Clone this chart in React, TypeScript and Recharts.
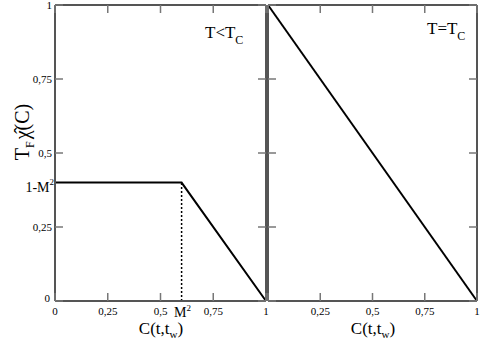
import { LineChart, Line, XAxis, YAxis } from 'recharts';

// correlation C(t,tw) on x, T_F chi(C) on y
const ticks = [0, 0.25, 0.5, 0.75, 1];
const mSquared = 0.6;
const plateau = 0.4;
const leftXTicks = [0, 0.25, 0.5, mSquared, 0.75, 1];
const leftYTicks = [0, 0.25, plateau, 0.5, 0.75, 1];
const belowTc = [
  { c: 0, chi: 0.4 },
  { c: 0.6, chi: 0.4 },
  { c: 1, chi: 0 },
];
const dropLine = [
  { c: 0.6, chi: 0 },
  { c: 0.6, chi: 0.4 },
];
const atTc = [
  { c: 0, chi: 1 },
  { c: 1, chi: 0 },
];

const FONT = '"Liberation Serif", "DejaVu Serif", serif';
const FRAME = '#555';
const TICK = '#777';
const T = 8; // tick length
const fmt = (v: number) => String(v).replace('.', ',');

// tickSize=T, tickMargin=0: tick props sit T px outside the axis line, so step back in
const bottomTick = (showZero: boolean) => (props: any) => {
  const { x, payload } = props;
  const y = props.y - T;
  const v = payload.value;
  if (v === mSquared) {
    return (
      <text x={x + 1} y={y + 16} textAnchor="middle" fontSize={14} fontFamily={FONT} fill="#000">
        M<tspan dy={-6} fontSize={9}>2</tspan>
      </text>
    );
  }
  return (
    <g>
      <line x1={x} x2={x} y1={y} y2={y - T} stroke={TICK} strokeWidth={1.5} />
      {(showZero || v !== 0) && (
        <text x={x} y={y + 14} textAnchor="middle" fontSize={11} fontFamily={FONT} fill="#000">
          {fmt(v)}
        </text>
      )}
    </g>
  );
};

const leftTick = (labels: boolean) => (props: any) => {
  const { y, payload } = props;
  const x = props.x + T;
  const v = payload.value;
  if (v === plateau) {
    return (
      <text x={x - 1} y={y + 9} textAnchor="end" fontSize={14} fontFamily={FONT} fill="#000">
        1-M<tspan dy={-7} fontSize={9}>2</tspan>
      </text>
    );
  }
  return (
    <g>
      <line x1={x} x2={x + T} y1={y} y2={y} stroke={TICK} strokeWidth={1.5} />
      {labels && (
        <text x={v === 0 ? x - 5 : x - 3} y={v === 0 ? y + 1 : y + 4} textAnchor="end" fontSize={11} fontFamily={FONT} fill="#000">
          {fmt(v)}
        </text>
      )}
    </g>
  );
};

const topTick = (props: any) => {
  const { x } = props;
  const y = props.y + T;
  return <line x1={x} x2={x} y1={y} y2={y + T} stroke={TICK} strokeWidth={1.5} />;
};

const rightTick = (props: any) => {
  const { y } = props;
  const x = props.x - T;
  return <line x1={x} x2={x - T} y1={y} y2={y} stroke={TICK} strokeWidth={1.5} />;
};

const axisLine = { stroke: FRAME, strokeWidth: 2 };

export default function App() {
  return (
    <div style={{ position: 'absolute', left: 0, top: 0, width: 481, height: 341 }}>
      <div style={{ position: 'absolute', left: 0, top: 0 }}>
        <LineChart width={271} height={341} data={belowTc} margin={{ top: 4, right: 4, bottom: 0, left: 0 }}>
          <XAxis dataKey="c" type="number" domain={[0, 1]} ticks={leftXTicks} interval={0} height={40}
            tickSize={T} tickMargin={0} tickLine={false} axisLine={axisLine} tick={bottomTick(true)} />
          <XAxis xAxisId="top" orientation="top" dataKey="c" type="number" domain={[0, 1]} ticks={ticks} interval={0} height={1}
            tickSize={T} tickMargin={0} tickLine={false} axisLine={axisLine} tick={topTick} />
          <YAxis type="number" domain={[0, 1]} ticks={leftYTicks} interval={0} width={55}
            tickSize={T} tickMargin={0} tickLine={false} axisLine={axisLine} tick={leftTick(true)} />
          <YAxis yAxisId="right" orientation="right" type="number" domain={[0, 1]} ticks={ticks} interval={0} width={1}
            tickSize={T} tickMargin={0} tickLine={false} axisLine={axisLine} tick={rightTick} />
          {/* invisible series so the top/right frame axes get drawn */}
          <Line xAxisId="top" yAxisId="right" dataKey="chi" stroke="none" dot={false} activeDot={false} isAnimationActive={false} />
          <Line data={dropLine} dataKey="chi" type="linear" stroke="#000" strokeWidth={1.5} strokeDasharray="2 2"
            dot={false} isAnimationActive={false} />
          <Line dataKey="chi" type="linear" stroke="#000" strokeWidth={2} dot={false} isAnimationActive={false} />
        </LineChart>
      </div>
      <div style={{ position: 'absolute', left: 263, top: 0 }}>
        <LineChart width={218} height={341} data={atTc} margin={{ top: 4, right: 3, bottom: 0, left: 4 }}>
          <XAxis dataKey="c" type="number" domain={[0, 1]} ticks={ticks} interval={0} height={40}
            tickSize={T} tickMargin={0} tickLine={false} axisLine={axisLine} tick={bottomTick(false)} />
          <XAxis xAxisId="top" orientation="top" dataKey="c" type="number" domain={[0, 1]} ticks={ticks} interval={0} height={1}
            tickSize={T} tickMargin={0} tickLine={false} axisLine={axisLine} tick={topTick} />
          <YAxis type="number" domain={[0, 1]} ticks={ticks} interval={0} width={1}
            tickSize={T} tickMargin={0} tickLine={false} axisLine={axisLine} tick={leftTick(false)} />
          <YAxis yAxisId="right" orientation="right" type="number" domain={[0, 1]} ticks={ticks} interval={0} width={1}
            tickSize={T} tickMargin={0} tickLine={false} axisLine={axisLine} tick={rightTick} />
          <Line xAxisId="top" yAxisId="right" dataKey="chi" stroke="none" dot={false} activeDot={false} isAnimationActive={false} />
          <Line dataKey="chi" type="linear" stroke="#000" strokeWidth={2} dot={false} isAnimationActive={false} />
        </LineChart>
      </div>
      <svg
        width={481}
        height={341}
        style={{ position: 'absolute', left: 0, top: 0, pointerEvents: 'none' }}
        fontFamily={FONT}
      >
        <text x={205} y={38} fontSize={17} fill="#000">
          T&lt;T<tspan dy={6} fontSize={12}>C</tspan>
        </text>
        <text x={427} y={34} fontSize={17} fill="#000">
          T=T<tspan dy={6} fontSize={12}>C</tspan>
        </text>
        <text x={161} y={334} fontSize={17} textAnchor="middle" fill="#000">
          C(t,t<tspan dy={4} fontSize={11}>w</tspan>
          <tspan dy={-4}>)</tspan>
        </text>
        <text x={373} y={334} fontSize={17} textAnchor="middle" fill="#000">
          C(t,t<tspan dy={4} fontSize={11}>w</tspan>
          <tspan dy={-4}>)</tspan>
        </text>
        <text x={29} y={132} fontSize={20} textAnchor="middle" fill="#000" transform="rotate(-90, 29, 132)">
          T<tspan dy={5} fontSize={12}>F</tspan>
          <tspan dy={-5} dx={2}>{'\u03C7\u0302'}</tspan>
          <tspan>(C)</tspan>
        </text>
      </svg>
    </div>
  );
}
